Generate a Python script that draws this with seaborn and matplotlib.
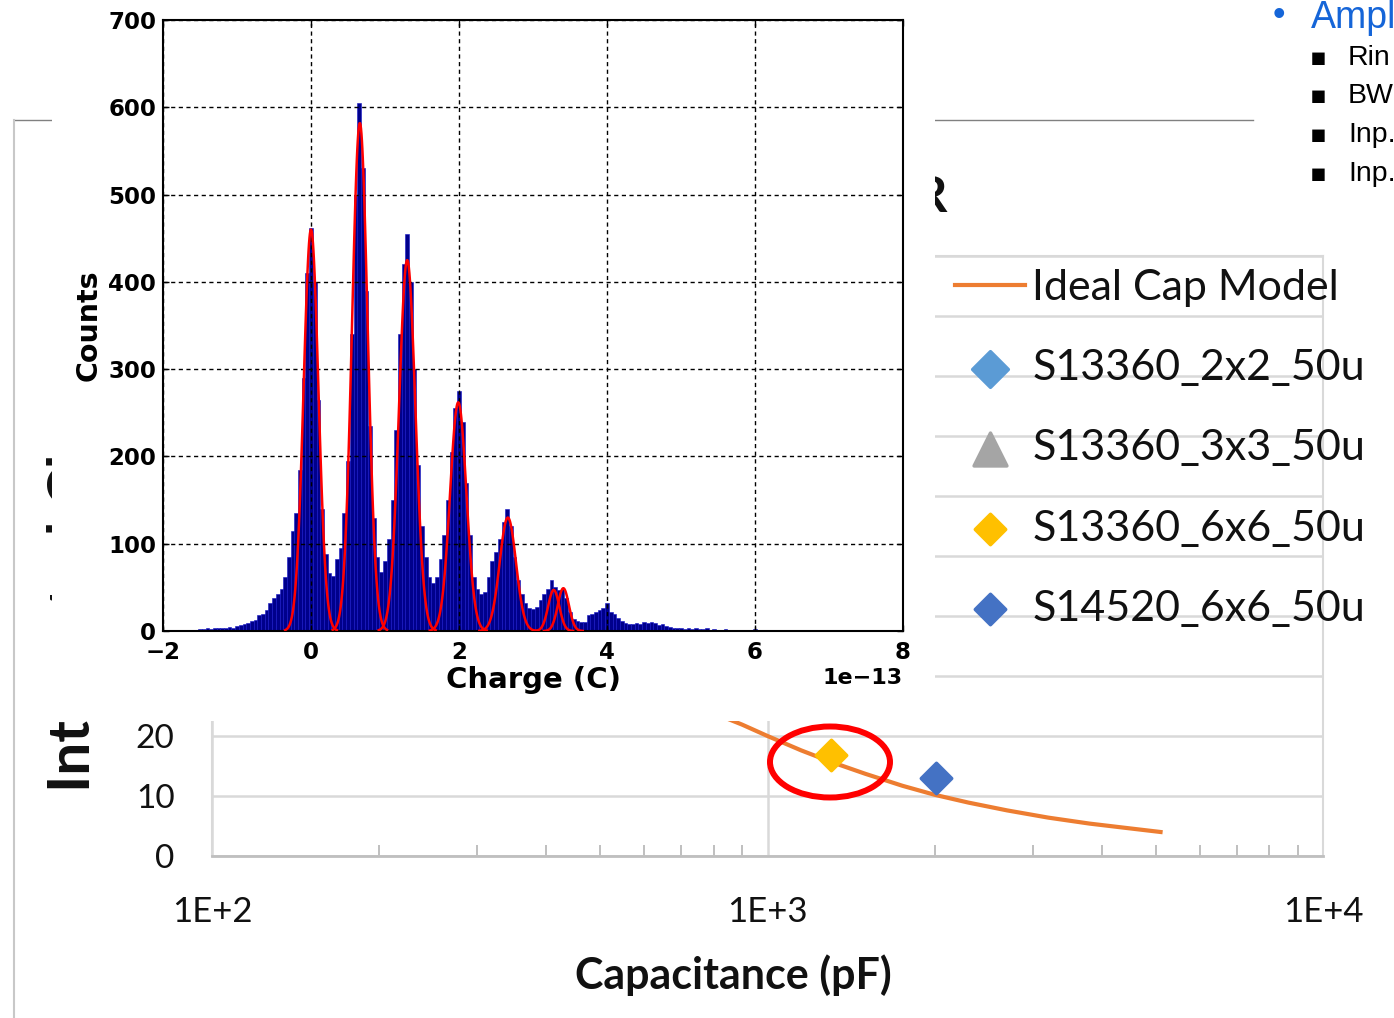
import numpy as np
import pandas as pd
import matplotlib
matplotlib.use("Agg")
import matplotlib.pyplot as plt
import seaborn as sns
from matplotlib.patches import Rectangle, Ellipse
from matplotlib.lines import Line2D
from matplotlib.ticker import LogLocator, NullFormatter
from matplotlib.font_manager import FontProperties

# ---------------- histogram data (charge in units of 1e-13 C) ----------------
hist_first_center = -1.60
hist_bin_width = 0.05
hist_counts = [
    1, 1, 2, 2, 3, 2, 3, 3, 4, 3,
    5, 4, 6, 7, 8, 9, 11, 13, 18, 20,
    24, 32, 38, 42, 48, 62, 85, 115, 135, 185,
    290, 410, 462, 400, 265, 140, 88, 66, 63, 82,
    95, 135, 195, 340, 500, 605, 530, 390, 235, 130,
    85, 68, 80, 105, 150, 230, 340, 420, 455, 400,
    300, 190, 120, 85, 62, 55, 62, 82, 110, 150,
    205, 255, 275, 240, 170, 110, 62, 48, 42, 45,
    62, 80, 90, 105, 125, 140, 120, 85, 58, 42,
    32, 26, 25, 27, 36, 42, 48, 58, 50, 47,
    48, 38, 22, 14, 11, 10, 10, 18, 20, 22,
    24, 26, 32, 22, 20, 15, 12, 9, 8, 8,
    9, 8, 10, 9, 10, 9, 7, 8, 6, 5,
    4, 3, 3, 2, 3, 2, 3, 2, 2, 3,
    1, 2, 1, 1, 2, 1, 1, 0, 1, 0,
    1, 0, 2, 1, 0, 1, 0,
]

# Gaussian fit parameters (units of 1e-13 C, counts)
fit_centers = [0.00, 0.66, 1.30, 1.99, 2.66, 3.28, 3.41]
fit_heights = [460, 582, 425, 262, 130, 47, 49]
fit_sigmas = [0.10, 0.105, 0.11, 0.11, 0.11, 0.075, 0.075]

hist_xticks = [-2, 0, 2, 4, 6, 8]
hist_yticks = [0, 100, 200, 300, 400, 500, 600, 700]

# ---------------- background capacitance chart data ----------------
model_cap_pf = [150, 200, 300, 400, 500, 600, 700, 800, 900, 1000, 1150, 1300,
                1500, 1750, 2000, 2300, 2700, 3200, 3800, 4400, 5100]
model_value = [128.0, 98.0, 66.0, 50.0, 40.0, 33.0, 27.0, 23.8, 21.9, 20.0, 17.6,
               15.7, 13.7, 11.7, 10.2, 8.9, 7.6, 6.4, 5.4, 4.7, 4.0]
sensor_names = ["S13360_2x2_50u", "S13360_3x3_50u", "S13360_6x6_50u", "S14520_6x6_50u"]
sensor_cap_pf = [140, 320, 1300, 2010]
sensor_value = [92, 60, 16.8, 13.0]
cap_xticks = [100, 1000, 10000]
cap_xticklabels = ["1E+2", "1E+3", "1E+4"]
cap_yticks = [0, 10, 20, 30, 40, 50, 60, 70, 80, 90, 100]

W, H = 1394, 1018
fig = plt.figure(figsize=(W / 100, H / 100), dpi=100)
fig.patch.set_facecolor("white")


def fx(px):
    return px / W


def fy(py):
    return 1 - py / H


# ======== background slide chart ========
axc = fig.add_axes([fx(212), fy(856), (1323 - 212) / W, 600 / H], zorder=0)
axc.set_facecolor("white")
axc.set_xscale("log")
sns.lineplot(x=model_cap_pf, y=model_value, ax=axc, color="#ED7D31", linewidth=3,
             label="Ideal Cap Model", estimator=None, sort=False, zorder=2)
sensor_markers = ["D", "^", "D", "D"]
sensor_colors = ["#5B9BD5", "#A5A5A5", "#FFC000", "#4472C4"]
sensor_sizes = [330, 560, 240, 240]
for name, c, v, mk, col, s in zip(sensor_names, sensor_cap_pf, sensor_value,
                                  sensor_markers, sensor_colors, sensor_sizes):
    sns.scatterplot(x=[c], y=[v], ax=axc, marker=mk, s=s, color=col, edgecolor=col,
                    linewidth=2.5, label=name, zorder=3)
for coll in axc.collections:
    coll.set_joinstyle("round")
axc.set_xlim(100, 10000)
axc.set_ylim(0, 100)
axc.set_xticks(cap_xticks, labels=cap_xticklabels)
axc.xaxis.set_minor_locator(LogLocator(base=10, subs=np.arange(2, 10)))
axc.xaxis.set_minor_formatter(NullFormatter())
axc.set_yticks(cap_yticks)
axc.grid(axis="both", which="major", color="#D9D9D9", linewidth=1.8)
axc.grid(which="minor", visible=False)
axc.set_axisbelow(True)
axc.tick_params(axis="x", which="major", length=0, pad=29, labelsize=25,
                labelfontfamily="Lato", labelcolor="#111111")
axc.tick_params(axis="x", which="minor", direction="in", length=8, width=1.4,
                color="#BFBFBF")
axc.tick_params(axis="y", length=0, pad=27, labelsize=24, labelfontfamily="Lato",
                labelcolor="#111111")
for side in ["left", "top", "right"]:
    axc.spines[side].set_color("#D9D9D9")
    axc.spines[side].set_linewidth(1.5)
axc.spines["bottom"].set_color("#BFBFBF")
axc.spines["bottom"].set_linewidth(2)
axc.set_xlabel("")
axc.set_ylabel("")
axc.legend(loc="upper left", bbox_to_anchor=(fx(955), fy(269)),
           bbox_transform=fig.transFigure, frameon=False,
           prop=FontProperties(family="Lato", size=31), handlelength=1.62,
           handletextpad=0.18, labelspacing=0.98, borderpad=0, borderaxespad=0,
           scatterpoints=1, labelcolor="#111111")

fig.text(fx(733), fy(975), "Capacitance (pF)", ha="center", va="center",
         fontsize=31, fontweight="bold", family="Lato", color="#111111")
fig.text(fx(73), fy(792), "Integrated Charge", rotation=90, ha="center",
         va="bottom", fontsize=42, fontweight="bold", family="Lato",
         color="#111111", zorder=1)
fig.text(fx(948), fy(197), "AMPLIFIER", ha="right", va="center", fontsize=36,
         fontweight="bold", family="Lato", color="#111111", zorder=1)

# slide frame lines
fig.add_artist(Line2D([fx(14), fx(1253)], [fy(120), fy(120)], color="#808080",
                      lw=1, zorder=1))
fig.add_artist(Line2D([fx(14), fx(14)], [fy(120), 0], color="#C8C8C8",
                      lw=1.5, zorder=1))

# slide bullet text (cut by the slide edge in the reference)
fig.text(fx(1279), fy(16), "\u2022", ha="center", va="center", fontsize=26,
         color="#1565D8", family=["Liberation Sans", "DejaVu Sans"])
fig.text(fx(1311), fy(28), "Ampl", ha="left", va="baseline", fontsize=27,
         color="#1565D8", family="Liberation Sans")
for yy, txt in zip([58, 96, 135, 174], ["Rin", "BW", "Inp.", "Inp."]):
    fig.text(fx(1318), fy(yy), "\u25aa", ha="center", va="center", fontsize=18,
             color="black", family=["DejaVu Sans"])
    fig.text(fx(1348), fy(yy), txt, ha="left", va="center", fontsize=20.5,
             color="black", family="Liberation Sans")

# red highlight ellipse
fig.add_artist(Ellipse((fx(830), fy(762)), 120 / W, 71 / H,
                       transform=fig.transFigure, fill=False,
                       edgecolor="#FF0000", lw=4.3, zorder=4))

# ======== histogram panel (pasted image) ========
fig.add_artist(Rectangle((fx(52), fy(721)), (935 - 52) / W, 721 / H,
                         transform=fig.transFigure, facecolor="white",
                         edgecolor="none", zorder=5))

axh = fig.add_axes([fx(163), fy(631), 740 / W, 611 / H], zorder=6)
axh.set_facecolor("white")
n_bins = len(hist_counts)
centers = hist_first_center + hist_bin_width * np.arange(n_bins)
hist_df = pd.DataFrame({"charge": centers * 1e-13, "count": hist_counts})
lo = (centers[0] - hist_bin_width / 2) * 1e-13
hi = (centers[-1] + hist_bin_width / 2) * 1e-13
sns.histplot(data=hist_df, x="charge", weights="count", bins=n_bins,
             binrange=(lo, hi), ax=axh, color="#00008B", edgecolor="#1414C8",
             linewidth=0.4, alpha=1, element="bars", zorder=2)
for mu, amp, sig in zip(fit_centers, fit_heights, fit_sigmas):
    xs = np.linspace(mu - 3.5 * sig, mu + 3.5 * sig, 120)
    ys = amp * np.exp(-0.5 * ((xs - mu) / sig) ** 2)
    sns.lineplot(x=xs * 1e-13, y=ys, ax=axh, color="#FF0000", linewidth=1.8,
                 estimator=None, sort=False, zorder=3)

axh.set_xlim(-2e-13, 8e-13)
axh.set_ylim(0, 700)
axh.set_xticks(np.array(hist_xticks) * 1e-13)
axh.set_yticks(hist_yticks)
axh.grid(True, color="black", linestyle=(0, (3, 2.5)), linewidth=1.0)
axh.set_axisbelow(False)
axh.tick_params(direction="in", length=4, width=1, top=True, right=True,
                labelsize=16.5)
axh.tick_params(axis="x", pad=7)
axh.tick_params(axis="y", pad=5)
for lbl in axh.get_xticklabels() + axh.get_yticklabels():
    lbl.set_fontweight("bold")
off = axh.xaxis.get_offset_text()
off.set_fontweight("bold")
off.set_fontsize(16)
for sp in axh.spines.values():
    sp.set_color("black")
    sp.set_linewidth(1.5)
axh.set_xlabel("Charge (C)", fontsize=21, fontweight="bold", labelpad=2)
axh.set_ylabel("Counts", fontsize=20.5, fontweight="bold", labelpad=4)

fig.savefig("out.png", dpi=100, facecolor="white")
